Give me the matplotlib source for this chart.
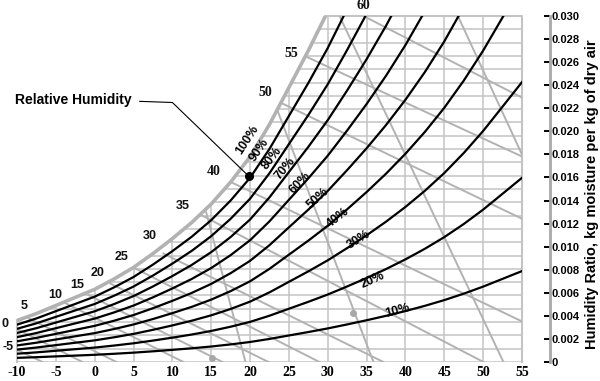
import matplotlib
matplotlib.use('Agg')
import matplotlib.pyplot as plt
from matplotlib.patches import Polygon
import numpy as np

# ---------------- data ----------------
temps = [-10, -7.5, -5, -2.5, 0, 2.5, 5, 7.5, 10, 12.5, 15, 17.5, 20, 22.5,
         25, 27.5, 30, 32.5, 35, 37.5, 40, 42.5, 45, 47.5, 50, 52.5, 55]
# saturation humidity ratio (continued above the top edge)
sat_w = [0.0036, 0.0042, 0.0049, 0.0056, 0.0063, 0.0072, 0.0082, 0.0094, 0.0107,
         0.0121, 0.0137, 0.0156, 0.0178, 0.0206, 0.0238, 0.0270, 0.0304, 0.0342,
         0.0382, 0.0425, 0.0472, 0.0524, 0.0582, 0.0648, 0.0722, 0.0805, 0.0890]
rh_levels = [90, 80, 70, 60, 50, 40, 30, 20, 10]

x_ticks = [-10, -5, 0, 5, 10, 15, 20, 25, 30, 35, 40, 45, 50, 55]
x_labels = ['-10', '-5', '0', '5', '10', '15', '20', '25', '30', '35', '40', '45', '50', '55']
y_ticks = [0, 0.002, 0.004, 0.006, 0.008, 0.010, 0.012, 0.014, 0.016, 0.018,
           0.020, 0.022, 0.024, 0.026, 0.028, 0.030]
y_labels = ['0', '0.002', '0.004', '0.006', '0.008', '0.010', '0.012', '0.014', '0.016',
            '0.018', '0.020', '0.022', '0.024', '0.026', '0.028', '0.030']

# shallow gray lines: (T0, w0, T1, w1)
shallow_lines = [
    (34.60, 0.0300, 55.06, 0.0229),
    (27.13, 0.0265, 55.06, 0.0178),
    (23.27, 0.0227, 55.06, 0.0124),
    (17.22, 0.0157, 55.06, 0.0035),
    (12.97, 0.0130, 50.04, 0.0),
    (8.85, 0.0094, 37.17, 0.0),
    (5.25, 0.0081, 28.93, 0.0),
    (2.03, 0.0068, 22.37, 0.0),
    (-0.80, 0.0058, 16.45, 0.0),
    (-3.76, 0.0051, 11.43, 0.0),
    (-8.52, 0.0038, 2.80, 0.0),
    (-9.81, 0.0028, -1.57, 0.0),
    (-9.81, 0.0010, -6.72, 0.0),
]
# steep gray lines
steep_lines = [
    (14.26, 0.0132, 19.41, 0.0),
    (23.53, 0.0218, 35.88, 0.0),
    (31.51, 0.0300, 52.61, 0.0),
    (46.82, 0.0299, 55.06, 0.0179),
]
# small gray marker dots on the gray lines
marker_T = [15.16, 33.31]
marker_w = [0.00035, 0.00425]

# scale labels along the saturation curve: (text, T, w, serif)
scale_labels = [
    ('0', -11.6, 0.0033, False), ('-5', -11.2, 0.0013, False),
    ('5', -9.03, 0.00486, False), ('10', -5.04, 0.00581, False),
    ('15', -2.21, 0.00668, False), ('20', 0.36, 0.00772, False),
    ('25', 3.45, 0.00910, False), ('30', 7.06, 0.01092, False),
    ('35', 11.30, 0.01353, False), ('40', 15.29, 0.01656, True),
    ('50', 21.98, 0.02341, True), ('55', 25.33, 0.02679, True),
    ('60', 34.60, 0.03087, True),
]

# RH curve labels: (text, T, w, rotation)
rh_labels = [
    ('100%', 19.67, 0.01925, 57), ('90%', 21.21, 0.01838, 55),
    ('80%', 22.88, 0.01769, 52), ('70%', 24.56, 0.01682, 50),
    ('60%', 26.49, 0.01552, 46), ('50%', 28.80, 0.01422, 42),
    ('40%', 31.25, 0.01248, 38), ('30%', 33.95, 0.01058, 32),
    ('20%', 35.75, 0.00711, 24), ('10%', 38.97, 0.00442, 15),
]

dot_T, dot_w = 19.80, 0.01613

# ---------------- figure ----------------
W, H = 600, 381
fig = plt.figure(figsize=(W / 100, H / 100), dpi=100)
x0, x1 = 17, 522
y0, y1 = 362, 16
ax = fig.add_axes([x0 / W, (H - y0) / H, (x1 - x0) / W, (y0 - y1) / H])
ax.set_xlim(-10, 55)
ax.set_ylim(0, 0.030)

GRID = '#c4c4c4'
SAT = '#b2b2b2'

ts = np.array(temps)
ws = np.array(sat_w)
mask = ws <= 0.030
top_T = np.interp(0.030, ws, ts)
poly_pts = [(-10, 0)] + list(zip(ts[mask], ws[mask])) + [(top_T, 0.030), (55, 0.030), (55, 0)]
clip = Polygon(poly_pts, closed=True, transform=ax.transData, fill=False, lw=0)
ax.add_patch(clip)

for T in range(-5, 55, 5):
    l, = ax.plot([T, T], [0, 0.030], color=GRID, lw=1.1, zorder=1)
    l.set_clip_path(clip)
for k in range(0, 27):
    w = 0.030 * k / 26
    l, = ax.plot([-10, 55], [w, w], color=GRID, lw=1.1, zorder=1)
    l.set_clip_path(clip)

ax.plot([-10, -10], [0, sat_w[0]], color=GRID, lw=1.5, zorder=1, clip_on=False)
ax.plot([top_T, 55, 55], [0.030, 0.030, 0], color=GRID, lw=1.5, zorder=1, clip_on=False)

for (a, b, c, d) in shallow_lines + steep_lines:
    l, = ax.plot([a, c], [b, d], color=SAT, lw=1.4, zorder=2)
    l.set_clip_path(clip)
ax.plot(marker_T, marker_w, 'o', color='#a8a8a8', ms=4, zorder=2, clip_on=False)

ax.plot(list(ts[mask]) + [top_T], list(ws[mask]) + [0.030], color=SAT, lw=2.6,
        zorder=3, solid_capstyle='butt')

# RH curves from the saturation ratio (psychrometric relation)
for rh in rh_levels:
    phi = rh / 100
    curve = []
    for w in sat_w:
        x = w / (0.622 + w)
        curve.append(0.622 * phi * x / (1 - phi * x))
    ax.plot(temps, curve, color='black', lw=1.6, zorder=4)

for txt, T, w, serif in scale_labels:
    fam = ['Liberation Serif'] if serif else ['Liberation Sans']
    ax.text(T, w, txt, ha='center', va='center', fontsize=10 if serif else 9,
            fontweight='bold', family=fam, clip_on=False, color='#111111')

for txt, T, w, rot in rh_labels:
    ax.text(T, w, txt, ha='center', va='center', rotation=rot, fontsize=9,
            fontweight='bold', family=['Liberation Sans'],
            rotation_mode='anchor', clip_on=False, zorder=6)

ax.plot([dot_T], [dot_w], 'o', color='black', ms=5.5, zorder=6)
ax.plot([5.8, 10.0, dot_T], [0.0226, 0.0225, dot_w], color='black', lw=0.8,
        clip_on=False, zorder=5)
ax.text(-10.2, 0.0227, 'Relative Humidity', ha='left', va='center', fontsize=10,
        fontweight='bold', family=['Liberation Sans'])

for s in ['left', 'top', 'bottom']:
    ax.spines[s].set_visible(False)
ax.spines['right'].set_position(('outward', 20))
ax.spines['right'].set_color('#a8a8a8')
ax.spines['right'].set_linewidth(2)
ax.yaxis.tick_right()
ax.set_yticks(y_ticks)
ax.set_yticklabels(y_labels, fontsize=8, fontweight='bold', family=['Liberation Sans'])
ax.tick_params(axis='y', direction='in', length=4, width=1.4, pad=1, colors='black')
ax.set_xticks(x_ticks)
ax.set_xticklabels(x_labels, fontsize=10, fontweight='bold', family=['Liberation Serif'])
ax.tick_params(axis='x', length=0, pad=3)

fig.text(592 / W, (H - 194) / H, 'Humidity Ratio, kg moisture per kg of dry air',
         rotation=90, ha='center', va='center', fontsize=10.5, fontweight='bold',
         family=['Liberation Sans'])

fig.savefig('out.png', dpi=100)
